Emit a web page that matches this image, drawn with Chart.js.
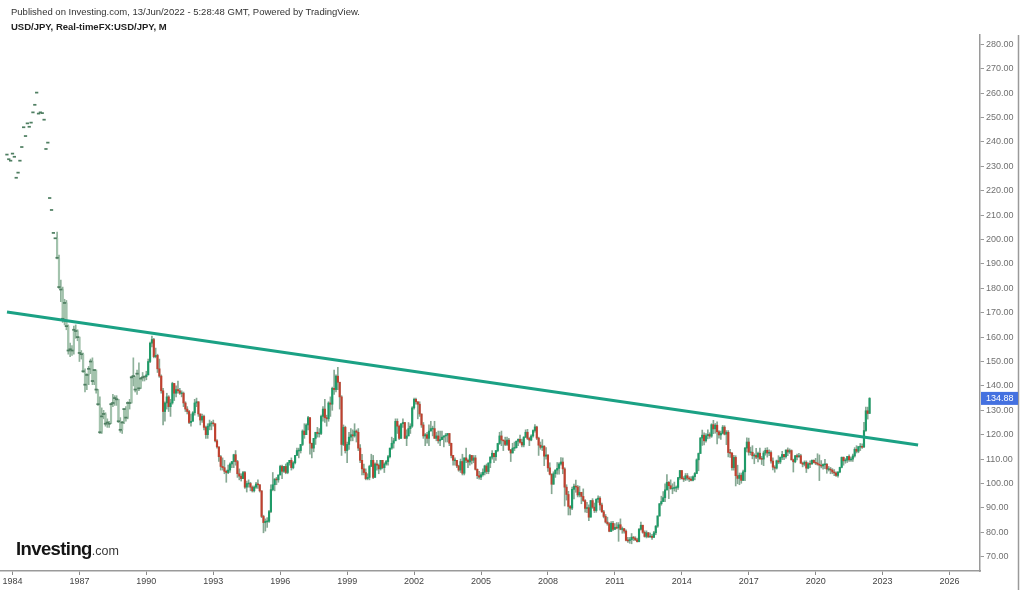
<!DOCTYPE html>
<html><head><meta charset="utf-8">
<script src="https://cdn.jsdelivr.net/npm/chart.js@4.4.0/dist/chart.umd.min.js"></script>
<style>
html,body{margin:0;padding:0;background:#fff;}
#wrap{position:relative;width:1024px;height:590px;overflow:hidden;font-family:"Liberation Sans",Arial,sans-serif;}
#c{position:absolute;left:0;top:0;width:1024px;height:590px;}
.pub{position:absolute;left:11px;top:6px;font-size:9.5px;color:#333;white-space:nowrap;line-height:12px;}
.sym{position:absolute;left:11px;top:21px;font-size:9.5px;font-weight:bold;color:#222;white-space:nowrap;line-height:12px;}
.logo{position:absolute;left:16px;top:539px;white-space:nowrap;line-height:20px;}
.logo .a{font-size:18.5px;font-weight:bold;color:#151515;letter-spacing:-0.6px;}
.logo .b{font-size:12.5px;color:#3a3a3a;}
</style></head>
<body><div id="wrap">
<canvas id="c" width="1024" height="590"></canvas>
<div class="pub">Published on Investing.com, 13/Jun/2022 - 5:28:48 GMT, Powered by TradingView.</div>
<div class="sym">USD/JPY, Real-timeFX:USD/JPY, M</div>
<div class="logo"><span class="a">Investing</span><span class="b">.com</span></div>
</div>
<script>
// month index: 0 = Jan 1984
const dashStartMonth = -3; // Oct 1983 — single-price prints up to Dec 1985
const dashCloses = [234.8,232.9,232.3,
 235.2,233.9,225.3,227.4,232.3,237.9,246.0,242.4,247.6,246.2,247.9,252.1,
 255.2,260.2,251.6,252.1,251.8,249.1,237.1,239.7,217.0,212.1,202.7,200.5];
const candleStartMonth = 24; // Jan 1986
const colouredFromMonth = 72; // Jan 1990
const closes = [
 192.5,180.5,179.5,167.5,174.0,164.5,154.5,155.0,154.5,163.0,162.5,160.0,
 153.5,153.0,146.0,140.5,144.5,147.0,150.0,142.0,146.5,138.5,132.5,121.0,
 127.5,128.5,124.5,125.0,124.5,132.5,133.0,135.0,134.5,125.5,122.0,125.0,
 130.5,127.0,133.0,133.0,143.5,144.0,138.5,145.0,139.0,143.0,143.5,143.8,
 144.5,150.0,157.5,159.0,152.0,152.5,147.0,144.0,138.0,129.5,133.0,135.5,
 131.5,133.0,141.0,137.0,138.5,138.0,137.0,137.0,133.0,130.5,129.5,125.0,
 125.5,129.0,133.0,133.5,128.5,126.0,127.5,123.0,120.0,123.5,124.5,124.8,
 124.5,117.5,115.0,111.0,107.0,106.5,105.0,104.5,105.5,108.0,109.0,111.8,
 109.0,104.0,103.0,102.0,104.5,98.5,100.0,100.0,98.5,97.0,98.5,99.8,
 99.5,97.0,86.5,84.0,84.5,84.5,88.5,97.5,99.5,101.8,101.5,103.5,
 107.0,105.0,107.0,104.5,108.5,109.5,106.5,108.5,111.5,113.5,113.5,116.0,
 121.5,120.0,124.0,127.0,116.5,114.5,118.5,121.0,120.5,120.5,127.5,130.5,
 127.0,126.5,133.0,132.5,139.0,138.5,144.0,141.5,135.5,116.0,123.0,113.5,
 116.0,119.0,120.0,119.5,121.5,121.0,114.5,109.5,106.0,104.5,102.0,102.5,
 107.0,109.5,102.5,108.0,107.5,106.0,109.5,106.5,108.0,109.0,111.0,114.5,
 116.5,117.5,125.5,123.5,118.5,124.5,125.0,118.5,119.5,122.5,123.5,131.0,
 134.5,133.5,132.5,128.5,124.0,119.5,120.0,118.5,121.5,122.5,122.5,118.5,
 119.5,117.5,118.0,119.0,119.5,119.8,120.5,116.5,111.5,109.5,109.5,107.2,
 105.5,109.0,104.2,110.5,109.5,108.8,111.5,109.5,110.5,105.8,103.2,102.6,
 103.6,104.6,107.2,104.9,108.4,110.8,112.4,111.0,113.5,116.4,119.5,117.8,
 117.5,116.0,117.8,113.8,112.5,114.5,114.7,117.3,118.1,116.9,115.8,119.0,
 121.0,118.5,117.8,119.5,121.7,123.2,118.6,115.7,114.8,115.3,111.2,111.7,
 106.4,103.8,99.7,104.0,105.5,106.2,108.0,108.8,106.0,98.5,95.5,90.6,
 89.9,97.6,98.9,98.6,95.3,96.4,94.7,93.0,89.8,90.1,86.2,93.0,
 90.3,88.9,93.5,94.0,91.2,88.4,86.5,84.2,83.5,80.4,83.7,81.2,
 82.0,81.8,83.1,81.2,81.5,80.5,76.7,76.6,77.0,78.0,77.6,76.9,
 76.2,81.2,82.9,80.0,78.3,79.8,78.1,78.4,77.9,79.8,82.5,86.7,
 91.7,92.6,94.2,97.4,100.5,99.1,97.9,98.1,98.3,98.4,102.4,105.3,
 102.0,101.8,103.2,102.2,101.8,101.3,102.8,104.1,109.7,112.3,118.6,119.8,
 117.5,119.6,120.1,119.4,124.1,122.4,123.9,121.2,119.9,120.6,123.1,120.2,
 121.0,112.7,112.5,106.5,110.7,103.2,102.1,103.4,101.3,104.8,114.5,117.0,
 112.8,112.8,111.4,111.5,110.8,112.4,110.2,110.0,112.5,113.6,112.5,112.7,
 109.2,106.7,106.3,109.3,108.8,110.7,111.9,111.0,113.7,112.9,113.5,109.7,
 108.9,111.4,110.9,111.4,108.3,107.9,108.7,106.3,108.1,108.0,109.5,108.6,
 108.4,107.9,107.5,107.2,107.8,107.9,105.9,105.9,105.5,104.7,104.3,103.3,
 104.7,106.6,110.7,109.3,109.6,111.1,109.7,110.0,111.3,114.0,113.2,115.1,
 115.1,115.0,121.7,129.8,128.7,134.88];
const highs = [
 203.0,193.6,183.4,180.5,175.5,175.0,165.0,157.5,156.5,164.5,165.0,163.0,
 160.0,154.5,153.5,147.0,145.0,148.0,151.0,151.5,146.5,146.5,138.0,135.5,
 131.0,130.0,129.0,126.5,125.5,133.0,136.5,136.0,136.0,134.5,127.0,125.5,
 130.5,131.5,133.5,134.5,144.0,151.5,144.0,146.5,149.5,143.5,145.5,144.0,
 146.0,151.0,158.0,160.4,159.5,155.5,153.0,151.0,144.5,139.0,133.5,137.0,
 136.0,134.5,141.5,141.0,140.0,142.0,139.0,138.0,137.5,133.5,131.5,130.0,
 128.5,129.5,134.5,135.0,133.5,128.5,128.5,128.0,123.5,124.5,126.0,125.5,
 126.0,124.5,118.0,115.0,111.5,110.5,109.5,105.5,107.5,108.5,109.0,112.0,
 113.5,109.5,106.0,104.0,105.0,105.0,101.0,101.5,100.5,99.0,99.0,100.5,
 101.5,99.5,97.0,87.0,85.5,86.0,89.0,99.5,104.5,102.0,102.5,103.5,
 107.5,107.5,107.0,108.0,108.5,109.5,110.5,109.0,111.5,114.5,114.5,116.0,
 122.0,124.5,124.5,127.5,127.0,116.5,118.5,121.0,123.0,122.5,128.0,131.5,
 134.5,128.0,133.5,135.5,139.5,146.5,144.5,147.6,139.0,136.0,124.0,123.5,
 117.0,121.0,122.5,122.0,124.5,122.0,122.5,116.0,112.0,108.0,106.0,104.0,
 107.5,112.0,111.5,108.5,109.5,108.0,109.5,109.5,108.5,109.5,111.5,114.5,
 119.0,118.5,126.5,126.5,124.0,124.5,126.5,125.0,122.0,125.0,124.5,131.5,
 135.0,135.0,133.5,133.5,128.5,125.0,120.5,121.0,124.0,125.5,123.5,125.5,
 121.0,121.5,121.5,121.5,119.5,120.5,120.5,120.0,116.5,111.5,110.5,109.5,
 107.5,110.0,112.0,110.5,114.5,110.0,112.0,111.5,111.5,111.5,106.0,105.0,
 104.5,106.0,107.5,108.0,108.5,111.0,113.5,111.5,113.5,116.5,121.0,121.5,
 117.5,119.0,119.0,118.5,114.0,116.5,117.0,117.5,118.3,119.8,118.2,119.2,
 122.0,122.2,119.0,120.0,122.0,124.1,123.5,119.0,117.0,118.0,115.5,114.7,
 109.7,108.5,104.0,104.8,105.6,108.6,108.6,110.6,110.5,106.5,99.5,96.8,
 91.0,98.5,99.8,101.4,99.2,98.9,95.6,97.8,93.4,92.3,91.3,93.1,
 93.8,92.0,93.8,94.9,94.6,92.0,89.0,87.3,86.2,84.0,84.4,84.5,
 83.6,84.0,84.0,85.5,82.2,81.5,81.0,77.9,77.9,79.5,78.3,78.2,
 77.6,81.6,84.2,82.9,80.6,80.6,80.0,79.7,79.2,80.4,82.8,86.7,
 91.8,94.8,96.7,99.9,103.7,100.8,101.5,99.9,100.6,99.0,102.5,105.4,
 105.4,102.8,104.1,104.1,102.8,102.8,103.1,104.5,110.1,112.5,118.9,121.9,
 120.8,120.5,122.0,120.8,124.5,125.9,124.6,125.3,121.7,121.5,123.8,123.7,
 121.7,121.7,114.0,112.7,111.5,111.4,107.5,104.3,104.3,105.5,114.8,118.7,
 118.6,114.9,115.5,112.2,114.4,112.9,114.5,111.1,113.3,114.5,114.7,113.8,
 113.4,110.5,107.3,109.6,111.4,110.9,113.2,111.8,113.8,114.6,114.2,113.8,
 110.0,111.5,112.1,112.4,112.0,108.8,109.3,109.3,108.5,109.3,109.7,109.7,
 110.3,112.2,111.7,109.4,108.1,109.9,108.2,107.0,106.6,106.1,105.7,104.8,
 104.9,106.7,110.9,110.9,110.2,111.1,111.7,110.8,112.1,114.7,115.5,115.2,
 116.4,116.3,125.1,131.3,131.3,135.2];
const lows = [
 192.0,180.0,174.5,166.0,165.0,163.0,153.0,152.0,152.5,153.0,159.5,158.5,
 150.0,151.0,145.5,137.5,138.5,140.5,145.0,140.5,140.5,137.0,132.0,120.5,
 120.5,126.5,123.5,123.0,123.0,124.5,131.5,132.0,132.0,125.0,121.0,120.5,
 124.5,125.5,126.5,130.5,133.0,140.0,137.5,136.5,138.0,139.0,142.0,142.0,
 142.5,144.5,149.5,156.0,151.5,151.5,145.5,143.5,137.0,124.0,125.5,130.5,
 129.5,127.5,132.5,134.0,135.5,137.0,136.5,135.5,131.5,129.5,128.5,124.5,
 123.5,125.5,128.0,131.5,127.5,124.0,125.0,122.0,118.5,118.5,122.0,122.0,
 123.5,117.0,114.5,109.0,105.5,105.5,104.0,100.5,104.0,104.5,106.5,106.5,
 107.5,102.5,101.5,101.0,102.0,98.0,96.5,98.5,97.0,96.5,96.5,98.0,
 98.0,96.5,86.0,79.8,80.5,82.0,84.0,88.0,97.0,97.0,99.5,100.5,
 103.5,102.0,104.5,104.0,104.0,107.5,105.5,106.0,108.0,111.5,110.5,112.5,
 115.5,118.5,120.0,122.0,112.0,110.5,113.0,116.0,119.0,119.0,120.0,125.5,
 125.0,123.5,125.5,127.5,130.0,136.5,137.5,138.5,130.5,111.5,115.5,112.5,
 108.5,114.0,117.5,117.5,119.0,117.0,113.5,108.5,103.5,103.5,101.5,101.5,
 101.5,107.0,102.0,102.5,105.5,104.0,105.5,106.0,104.5,107.5,107.5,110.5,
 114.0,114.5,117.5,120.5,118.0,118.5,123.0,118.5,115.5,119.5,120.5,123.0,
 130.5,132.5,126.5,127.5,123.0,118.5,115.5,116.5,115.5,121.5,119.5,118.5,
 117.5,116.5,115.5,118.0,115.0,117.0,117.0,115.5,110.5,107.5,107.5,106.5,
 105.0,104.5,103.5,103.5,108.5,106.5,107.5,108.0,108.5,105.5,102.0,101.8,
 101.6,103.0,103.5,104.0,104.0,106.5,110.0,108.5,109.5,113.0,116.0,115.5,
 113.5,115.5,115.5,113.5,109.0,112.5,113.5,114.5,115.5,116.5,115.0,115.0,
 118.8,118.0,115.5,117.5,119.0,121.0,118.0,111.5,114.0,113.5,107.3,110.0,
 104.9,103.5,95.8,100.0,102.5,103.8,103.8,107.5,104.0,90.8,93.2,87.1,
 87.1,89.3,93.7,96.4,94.5,94.5,91.7,92.6,88.2,88.0,84.8,86.3,
 89.8,88.1,88.2,92.2,89.1,88.1,85.9,83.8,82.9,80.2,80.3,80.7,
 81.5,81.4,76.3,81.0,79.6,79.6,76.5,75.9,75.5,75.3,76.6,76.6,
 76.0,76.1,80.9,79.6,78.0,77.7,77.9,78.0,77.1,77.9,79.0,82.0,
 86.6,91.1,92.6,92.6,97.3,93.8,97.6,95.8,96.9,96.6,97.6,101.7,
 101.8,100.8,101.2,101.4,100.8,101.1,101.1,101.5,104.0,105.2,112.5,115.6,
 115.8,116.9,118.3,118.5,118.9,120.4,120.6,116.2,118.6,118.1,120.3,119.9,
 115.9,110.9,110.7,105.5,105.5,99.0,99.9,99.5,100.1,101.2,101.2,112.9,
 111.6,111.7,110.1,108.1,110.2,108.8,109.9,107.8,107.3,111.6,110.8,111.4,
 108.3,105.6,104.6,105.9,108.1,108.1,109.8,109.8,110.4,111.4,112.3,109.6,
 104.7,108.5,109.7,110.8,108.3,106.8,107.2,104.5,106.0,106.5,107.9,108.4,
 107.7,107.5,101.2,106.4,105.9,106.1,104.2,105.1,104.0,104.0,103.2,102.9,
 102.6,104.4,106.4,107.5,108.3,108.6,109.1,109.1,109.1,110.8,112.5,112.6,
 113.5,114.4,114.7,121.3,126.4,128.7];
const tickMonths = [0,36,72,108,144,180,216,252,288,324,360,396,432,468,504];
const tickLabels = ['1984','1987','1990','1993','1996','1999','2002','2005','2008','2011','2014','2017','2020','2023','2026'];
const yTickValues = [70,80,90,100,110,120,130,140,150,160,170,180,190,200,210,220,230,240,250,260,270,280];
const trendMonths = [-2.96, 487.1];
const trendValues = [170.3, 115.8];
const lastPrice = 134.88;

const GREEN = '#1f9b68', RED = '#c0402f', WICK = '#86a893';
const OLD_BODY = '#a3c3ad', OLD_WICK = '#8fb29b', DASH = '#4f7f62';

const wickData = [], bodyData = [], bodyColors = [], wickColors = [], dashData = [];
dashCloses.forEach((c, i) => dashData.push({x: dashStartMonth + i, y: [c - 0.22, c + 0.22]}));
closes.forEach((c, i) => {
  const m = candleStartMonth + i;
  const o = i === 0 ? dashCloses[dashCloses.length - 1] : closes[i - 1];
  const hi = Math.max(highs[i], o, c), lo = Math.min(lows[i], o, c);
  wickData.push({x: m, y: [lo, hi]});
  let b0 = Math.min(o, c), b1 = Math.max(o, c);
  if (b1 - b0 < 0.35) { const mid = (b0 + b1) / 2; b0 = mid - 0.18; b1 = mid + 0.18; }
  bodyData.push({x: m, y: [b0, b1]});
  if (m < colouredFromMonth) {
    bodyColors.push(OLD_BODY); wickColors.push(OLD_WICK);
    dashData.push({x: m, y: [c - 0.22, c + 0.22]});
  } else {
    bodyColors.push(c >= o ? GREEN : RED); wickColors.push(WICK);
  }
});

const frame = {
  id: 'frame',
  afterDraw(chart) {
    const ctx = chart.ctx, y = chart.scales.y;
    ctx.save();
    ctx.strokeStyle = '#9a9a9a'; ctx.lineWidth = 1.5;
    ctx.beginPath(); ctx.moveTo(1018.5, chart.chartArea.top); ctx.lineTo(1018.5, 590); ctx.stroke();
    const py = y.getPixelForValue(lastPrice);
    ctx.fillStyle = '#4471e0';
    ctx.fillRect(981, py - 6.5, 37, 13);
    ctx.fillStyle = '#ffffff';
    ctx.font = '9px "Liberation Sans", Arial, sans-serif';
    ctx.textBaseline = 'middle'; ctx.textAlign = 'left';
    ctx.fillText(lastPrice.toFixed(2), 986, py + 0.5);
    ctx.restore();
  }
};

Chart.defaults.font.family = '"Liberation Sans", Arial, sans-serif';
new Chart(document.getElementById('c'), {
  type: 'bar',
  data: {
    datasets: [
      {type: 'line', data: trendMonths.map((m, i) => ({x: m, y: trendValues[i]})), borderColor: '#1ba184', borderWidth: 3, pointRadius: 0, order: 0},
      {data: dashData, backgroundColor: DASH, barThickness: 2.6, grouped: false, order: 1},
      {data: bodyData, backgroundColor: bodyColors, barThickness: 1.5, grouped: false, order: 2},
      {data: wickData, backgroundColor: wickColors, barThickness: 1, grouped: false, order: 3}
    ]
  },
  options: {
    responsive: false, animation: false, events: [],
    layout: {padding: {top: 35, left: 0, right: 0, bottom: 0}},
    plugins: {legend: {display: false}, tooltip: {enabled: false}},
    scales: {
      x: {
        type: 'linear', min: -6.72, max: 520.4, offset: false,
        afterBuildTicks: s => { s.ticks = tickMonths.map(v => ({value: v})); },
        afterFit: s => { s.height = 19; },
        ticks: {autoSkip: false, maxRotation: 0, padding: 1, color: '#444', font: {size: 9},
          callback: v => tickLabels[tickMonths.indexOf(v)]},
        grid: {offset: false, drawOnChartArea: false, drawTicks: true, tickLength: 4, color: '#8a8a8a'},
        border: {display: true, color: '#9a9a9a', width: 1.5}
      },
      y: {
        type: 'linear', position: 'right', min: 64.14, max: 283.81,
        afterBuildTicks: s => { s.ticks = yTickValues.map(v => ({value: v})); },
        afterFit: s => { s.width = 44; },
        ticks: {padding: 2, color: '#707070', font: {size: 9}, callback: v => Number(v).toFixed(2)},
        grid: {offset: false, drawOnChartArea: false, drawTicks: true, tickLength: 4, color: '#9a9a9a'},
        border: {display: true, color: '#9a9a9a', width: 1.5}
      }
    }
  },
  plugins: [frame]
});
</script>
</body></html>
